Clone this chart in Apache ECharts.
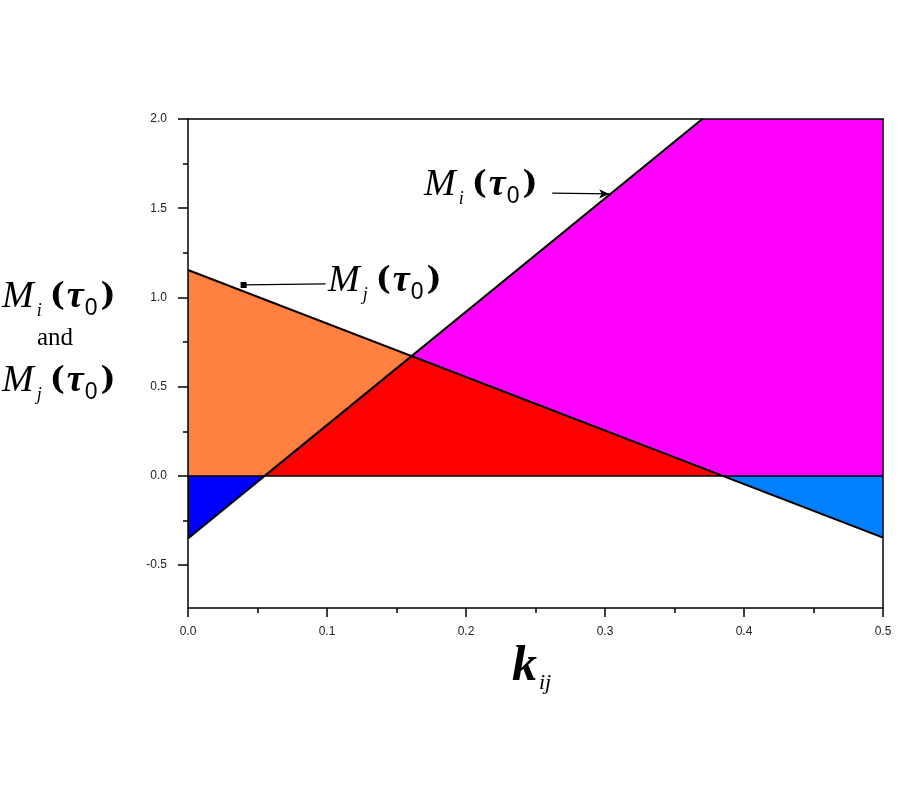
<!DOCTYPE html>
<html>
<head>
<meta charset="utf-8">
<script src="https://cdn.jsdelivr.net/npm/echarts@6/dist/echarts.min.js"></script>
<style>
  html, body { margin: 0; padding: 0; background: #fff; }
  #chart { width: 900px; height: 800px; }
</style>
</head>
<body>
<div id="chart"></div>
<script>
// axis ticks
const xTicks = [0, 0.1, 0.2, 0.3, 0.4, 0.5];
const yTicks = [-0.5, 0, 0.5, 1.0, 1.5, 2.0];
const yMinorTicks = [-0.25, 0.25, 0.75, 1.25, 1.75];

// the two straight lines (end points)
const miLine = [[0, -0.35], [0.37, 2.0]];
const mjLine = [[0, 1.154], [0.5, -0.346]];
const zeroLine = [[0, 0], [0.5, 0]];

// coloured regions (vertices)
const orangeRegion = [[0, 0], [0, 1.154], [0.161, 0.672], [0.055, 0]];
const redRegion = [[0.055, 0], [0.161, 0.672], [0.385, 0]];
const magentaRegion = [[0.161, 0.672], [0.37, 2.0], [0.5, 2.0], [0.5, 0], [0.385, 0]];
const blueRegion = [[0, 0], [0, -0.35], [0.055, 0]];
const lightBlueRegion = [[0.385, 0], [0.5, 0], [0.5, -0.346]];

// annotation arrows [from, to]
const miArrow = [[0.262, 1.585], [0.303, 1.58]];
const mjArrow = [[0.099, 1.076], [0.04, 1.07]];

const regions = [
    { pts: orangeRegion, color: '#FF8040' },
    { pts: redRegion, color: '#FF0000' },
    { pts: magentaRegion, color: '#FF00FF' },
    { pts: blueRegion, color: '#0000FF' },
    { pts: lightBlueRegion, color: '#0080FF' }
];

const chart = echarts.init(document.getElementById('chart'));

const fmt = v => v.toFixed(1);
const sans = 'Liberation Sans';
const serif = 'Liberation Serif';

// rich text for M_x(tau_0)
function mRich() {
    return {
        m: { fontFamily: serif, fontStyle: 'italic', fontSize: 38, lineHeight: 46, fill: '#000' },
        s: { fontFamily: serif, fontStyle: 'italic', fontSize: 18, lineHeight: 20, verticalAlign: 'bottom', padding: [0, 8, 0, 3] },
        p: { fontFamily: 'DejaVu Serif', fontWeight: 'bold', fontSize: 32, lineHeight: 46 },
        t: { fontFamily: serif, fontWeight: 'bold', fontStyle: 'italic', fontSize: 38, lineHeight: 46, padding: [0, 1, 0, 2] },
        z: { fontFamily: sans, fontSize: 23, lineHeight: 22, verticalAlign: 'bottom', padding: [0, 3, 0, 0] }
    };
}
function mText(sub) {
    return '{m|M}{s|' + sub + '}{p|(}{t|τ}{z|0}{p|)}';
}

const axisLine = { onZero: false, lineStyle: { color: '#000', width: 1.5 } };

const option = {
    backgroundColor: '#fff',
    animation: false,
    grid: { left: 188, right: 17, top: 119, bottom: 192, show: false },
    xAxis: [{
        type: 'value', position: 'bottom', min: 0, max: 0.5, interval: 0.1, z: 10,
        axisLine: axisLine,
        axisTick: { show: true, inside: false, length: 9, lineStyle: { color: '#000', width: 1.5 } },
        minorTick: { show: true, splitNumber: 2, length: 5, lineStyle: { color: '#000', width: 1.5 } },
        axisLabel: { formatter: fmt, margin: 18, fontFamily: sans, fontSize: 12, color: '#222' },
        splitLine: { show: false }
    }, {
        type: 'value', position: 'top', min: 0, max: 0.5, z: 10,
        axisLine: axisLine,
        axisTick: { show: false }, axisLabel: { show: false }, splitLine: { show: false }
    }],
    yAxis: [{
        type: 'value', position: 'left', min: -0.74, max: 2.0, z: 10,
        axisLine: axisLine,
        axisTick: { show: true, inside: false, length: 10, customValues: yTicks, lineStyle: { color: '#000', width: 1.5 } },
        axisLabel: { customValues: yTicks, formatter: fmt, margin: 21, fontFamily: sans, fontSize: 12, color: '#222' },
        splitLine: { show: false }
    }, {
        type: 'value', position: 'right', min: -0.74, max: 2.0, z: 10,
        axisLine: axisLine,
        axisTick: { show: false }, axisLabel: { show: false }, splitLine: { show: false }
    }, {
        type: 'value', position: 'left', min: -0.74, max: 2.0, z: 10,
        axisLine: { show: false, onZero: false },
        axisTick: { show: true, inside: false, length: 5, customValues: yMinorTicks, lineStyle: { color: '#000', width: 1.5 } },
        axisLabel: { show: false }, splitLine: { show: false }
    }],
    series: [{
        type: 'custom',
        z: 2,
        silent: true,
        data: regions.map((r, i) => [i]),
        encode: { x: -1, y: -1 },
        renderItem: function (params, api) {
            const r = regions[params.dataIndex];
            return {
                type: 'polygon',
                shape: { points: r.pts.map(p => api.coord(p)) },
                style: { fill: r.color, stroke: null }
            };
        }
    }, {
        type: 'line', data: miLine, symbol: 'none', z: 5,
        lineStyle: { color: '#000', width: 2 }
    }, {
        type: 'line', data: mjLine, symbol: 'none', z: 5,
        lineStyle: { color: '#000', width: 2 }
    }, {
        type: 'line', data: zeroLine, symbol: 'none', z: 5,
        lineStyle: { color: '#000', width: 1.5 },
        markLine: {
            silent: true,
            label: { show: false },
            lineStyle: { color: '#000', width: 1.3, type: 'solid' },
            data: [
                [{ coord: miArrow[0], symbol: 'none' }, { coord: miArrow[1], symbol: 'arrow', symbolSize: [7, 10] }],
                [{ coord: mjArrow[0], symbol: 'none' }, { coord: mjArrow[1], symbol: 'rect', symbolSize: 6 }]
            ]
        }
    }],
    graphic: [{
        type: 'text', left: 424, top: 166, z: 20,
        style: { text: mText('i'), rich: mRich() }
    }, {
        type: 'text', left: 328, top: 262, z: 20,
        style: { text: mText('j'), rich: mRich() }
    }, {
        type: 'text', left: 2, top: 278, z: 20,
        style: { text: mText('i'), rich: mRich() }
    }, {
        type: 'text', left: 37, top: 326, z: 20,
        style: { text: 'and', fontFamily: serif, fontSize: 25, fill: '#000' }
    }, {
        type: 'text', left: 2, top: 362, z: 20,
        style: { text: mText('j'), rich: mRich() }
    }, {
        type: 'text', left: 512, top: 642, z: 20,
        style: {
            text: '{k|k}{s|ij}',
            rich: {
                k: { fontFamily: serif, fontWeight: 'bold', fontStyle: 'italic', fontSize: 50, lineHeight: 54 },
                s: { fontFamily: serif, fontStyle: 'italic', fontSize: 22, lineHeight: 22, verticalAlign: 'bottom', padding: [0, 0, 0, 2] }
            }
        }
    }]
};

chart.setOption(option);
window.addEventListener('resize', function () {
    chart.resize();
});
</script>
</body>
</html>
